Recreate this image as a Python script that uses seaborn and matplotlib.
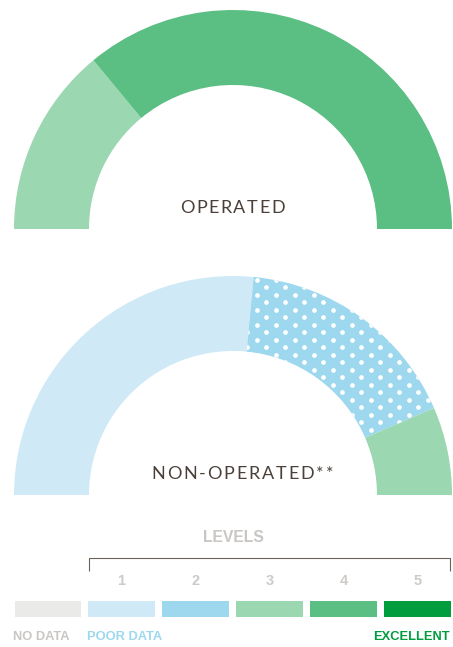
import matplotlib
matplotlib.use("Agg")
import numpy as np
import matplotlib.pyplot as plt
import seaborn as sns
from matplotlib.colors import ListedColormap

# ---- data -------------------------------------------------------------
level_names = ["NO DATA", "1", "2", "3", "4", "5"]
level_colors = ["#eaeae9", "#cfeaf6", "#9dd8ef", "#9bd7b0", "#5bbe83", "#009d3e"]

operated_levels = [3, 4]
operated_shares = [28, 72]

nonop_levels = [1, 2, 3]
nonop_shares = [53, 34, 13]
nonop_dotted = [False, True, False]

gauge_titles = ["OPERATED", "NON-OPERATED**"]
legend_title = "LEVELS"
legend_numbers = ["1", "2", "3", "4", "5"]
legend_words = ["NO DATA", "POOR DATA", "EXCELLENT"]

# ---- figure -----------------------------------------------------------
sns.set_theme(style="white")

W, H = 453, 647
fig = plt.figure(figsize=(W / 100, H / 100), dpi=100)
fig.patch.set_facecolor("white")
ax = fig.add_axes([0, 0, 1, 1])

TEXT_DARK = "#4b4039"
GREY = "#c9c6c3"


def dot_texture(ax, wedge, period=(19, 15), size=11.5):
    """White polka dots on a centred rectangular lattice, clipped to wedge."""
    px, py = period
    gx, gy = np.meshgrid(np.arange(0, W + px, px), np.arange(0, H + py, py))
    xs = np.concatenate([gx.ravel(), gx.ravel() + px / 2])
    ys = np.concatenate([gy.ravel(), gy.ravel() + py / 2])
    sc = ax.scatter(xs, ys, s=size, color="white", linewidths=0, zorder=3)
    sc.set_clip_path(wedge)


def gauge(ax, shares, levels, cx, cy, dotted=None):
    vals = list(shares) + [sum(shares)]
    cols = [level_colors[l] for l in levels] + ["none"]
    wedges, _ = ax.pie(vals, colors=cols, startangle=180, counterclock=False,
                       center=(cx, cy), radius=219,
                       wedgeprops=dict(width=75, linewidth=0))
    if dotted:
        for w, d in zip(wedges, dotted):
            if d:
                dot_texture(ax, w)
    return wedges


gauge(ax, operated_shares, operated_levels, 233, H - 229)
gauge(ax, nonop_shares, nonop_levels, 233, H - 495, dotted=nonop_dotted)

ax.set_xlim(0, W)
ax.set_ylim(0, H)
ax.set_aspect("auto")
ax.axis("off")

renderer = fig.canvas.get_renderer()


def spaced_text(ax, left, right, y, s, **kw):
    """Draw s with even letter spacing so its ink spans left..right."""
    widths = []
    for ch in s:
        t = ax.text(0, 0, ch, **kw)
        bb = t.get_window_extent(renderer)
        widths.append(bb.width)
        t.remove()
    gap = (right - left - sum(widths)) / max(len(s) - 1, 1)
    x = left
    for ch, w in zip(s, widths):
        ax.text(x, y, ch, ha="left", va="center", **kw)
        x += w + gap


title_kw = dict(fontsize=13, color=TEXT_DARK, family=["Lato", "DejaVu Sans"])
spaced_text(ax, 180, 285, H - 208, gauge_titles[0], **title_kw)
spaced_text(ax, 151, 333, H - 474, gauge_titles[1], **title_kw)

# ---- legend -----------------------------------------------------------
sans = ["Liberation Sans", "DejaVu Sans"]
ax.text(233, H - 538, legend_title, ha="center", va="center", fontsize=11.3,
        fontweight="bold", color=GREY, family=sans)

# bracket over levels 1..5
ax.plot([89, 89, 450, 450], [H - 571, H - 558, H - 558, H - 571],
        color="#6d625b", lw=0.8, solid_capstyle="butt")

pitch = 74
for i, n in enumerate(legend_numbers, start=1):
    ax.text(14 + pitch * i + 33.5, H - 581, n, ha="center", va="center",
            fontsize=10.5, fontweight="bold", color="#cdcac7", family=sans)

# colour strip
gap = 7
x0 = 14 - gap / 2
strip_ax = fig.add_axes([x0 / W, (H - 616 - gap / 2) / H,
                         (pitch * 6) / W, (16 + gap) / H])
sns.heatmap([list(range(len(level_names)))], ax=strip_ax,
            cmap=ListedColormap(level_colors), vmin=-0.5, vmax=5.5,
            cbar=False, linewidths=gap * 0.72, linecolor="white",
            xticklabels=False, yticklabels=False)
strip_ax.axis("off")

word_kw = dict(fontsize=9.3, fontweight="bold", va="center", family=sans)
ax.text(13, H - 637, legend_words[0], ha="left", color=GREY, **word_kw)
ax.text(87, H - 637, legend_words[1], ha="left", color=level_colors[2], **word_kw)
ax.text(450, H - 637, legend_words[2], ha="right", color=level_colors[5], **word_kw)

fig.savefig("out.png", dpi=100, facecolor="white")
